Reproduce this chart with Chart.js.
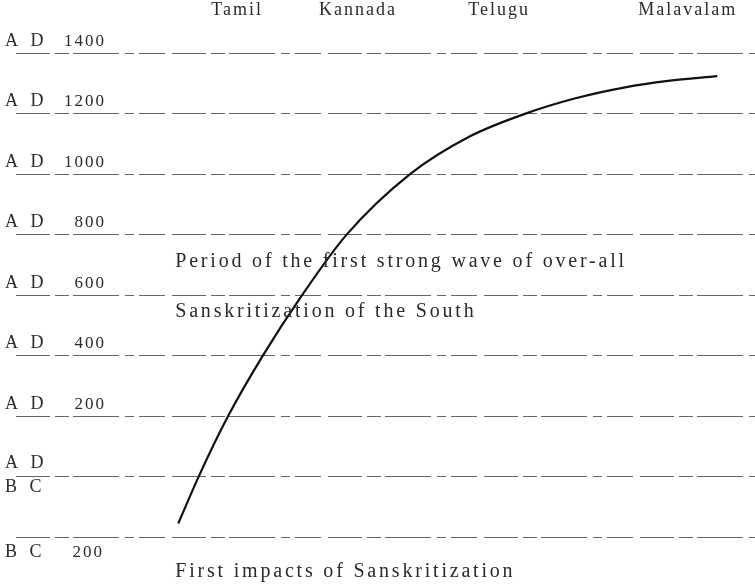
<!DOCTYPE html>
<html>
<head>
<meta charset="utf-8">
<script src="https://cdn.jsdelivr.net/npm/chart.js@4.4.1/dist/chart.umd.min.js"></script>
<style>
  html, body { margin: 0; padding: 0; background: #fff; }
  #wrap { width: 755px; height: 587px; }
</style>
</head>
<body>
<div id="wrap"><canvas id="chart"></canvas></div>
<script>
// languages across the top, placed along the horizontal scale (0-100)
const languages = ["Tamil", "Kannada", "Telugu", "Malavalam"];
const languagePositions = [31.4, 47.4, 66.1, 91.1];

// period lines: years (negative = B C)
const yearTicks = [-200, 0, 200, 400, 600, 800, 1000, 1200, 1400];

// the wave of Sanskritization
const waveX = [23.6, 26.3, 30.2, 34.8, 40.0, 45.9, 54.3, 62.0, 69.6, 76.1, 82.8, 88.5, 95.0];
const waveYear = [-155, 0, 200, 400, 600, 800, 1000, 1122, 1200, 1250, 1287, 1308, 1324];

// notes written on the chart
const notes = [
  { text: "Period of the first strong wave of over-all", x: 23.2, year: 711 },
  { text: "Sanskritization of the South", x: 23.2, year: 545 },
  { text: "First impacts of Sanskritization", x: 23.2, year: -316 },
];

const inkColor = "#2a2a2a";
const lineColor = "#666";
const serif = "'Liberation Serif', 'DejaVu Serif', serif";

const labelsPlugin = {
  id: "periodLabels",
  beforeDraw(chart) {
    chart.ctx.letterSpacing = "2px";
  },
  afterDraw(chart) {
    const { ctx, scales } = chart;
    const y = scales.y;
    const x = scales.x;
    ctx.save();
    ctx.fillStyle = inkColor;
    ctx.textBaseline = "middle";

    yearTicks.forEach((year) => {
      const py = y.getPixelForValue(year);
      ctx.font = `18px ${serif}`;
      ctx.letterSpacing = "4px";
      ctx.textAlign = "left";
      if (year > 0) {
        ctx.fillText("A D", 5, py - 12);
      } else if (year === 0) {
        ctx.fillText("A D", 5, py - 13);
        ctx.fillText("B C", 5, py + 11);
      } else {
        ctx.fillText("B C", 5, py + 15);
      }
      if (year !== 0) {
        ctx.font = `17px ${serif}`;
        ctx.letterSpacing = "2px";
        ctx.textAlign = "right";
        ctx.fillText(String(Math.abs(year)), year > 0 ? 106 : 104, year > 0 ? py - 12 : py + 15);
      }
    });

    ctx.font = `20px ${serif}`;
    ctx.letterSpacing = "2.8px";
    ctx.textAlign = "left";
    notes.forEach((note) => {
      ctx.fillText(note.text, x.getPixelForValue(note.x), y.getPixelForValue(note.year));
    });
    ctx.restore();
  },
};

function createWaveChart() {
  const context = document.getElementById("chart").getContext("2d");
  return new Chart(context, {
    type: "line",
    data: {
      datasets: [
        {
          data: waveX.map((v, i) => ({ x: v, y: waveYear[i] })),
          borderColor: "#111",
          borderWidth: 2.2,
          fill: false,
          cubicInterpolationMode: "monotone",
          pointRadius: 0,
        },
      ],
    },
    options: {
      responsive: true,
      maintainAspectRatio: false,
      animation: false,
      layout: { padding: { left: 16, top: 0, right: 0, bottom: 0 } },
      scales: {
        x: {
          type: "linear",
          position: "top",
          min: 2.1,
          max: 100,
          afterBuildTicks: (axis) => {
            axis.ticks = languagePositions.map((v) => ({ value: v }));
          },
          afterFit: (axis) => {
            axis.height = 25;
          },
          ticks: {
            autoSkip: false,
            maxRotation: 0,
            padding: 4,
            color: inkColor,
            font: { family: serif, size: 18 },
            callback: (v, i) => languages[i],
          },
          grid: { display: false, drawTicks: false },
          border: { display: false },
        },
        y: {
          type: "linear",
          min: -365,
          max: 1493,
          afterBuildTicks: (axis) => {
            axis.ticks = yearTicks.map((v) => ({ value: v }));
          },
          afterFit: (axis) => {
            axis.width = 0;
          },
          ticks: { display: false },
          grid: { color: lineColor, lineWidth: 1, drawTicks: false },
          border: { display: false, dash: [34, 5, 14, 4, 46, 6, 9, 5, 26, 7] },
        },
      },
      plugins: {
        legend: { display: false },
        tooltip: { enabled: false },
      },
    },
    plugins: [labelsPlugin],
  });
}

window.addEventListener("DOMContentLoaded", createWaveChart);
</script>
</body>
</html>
